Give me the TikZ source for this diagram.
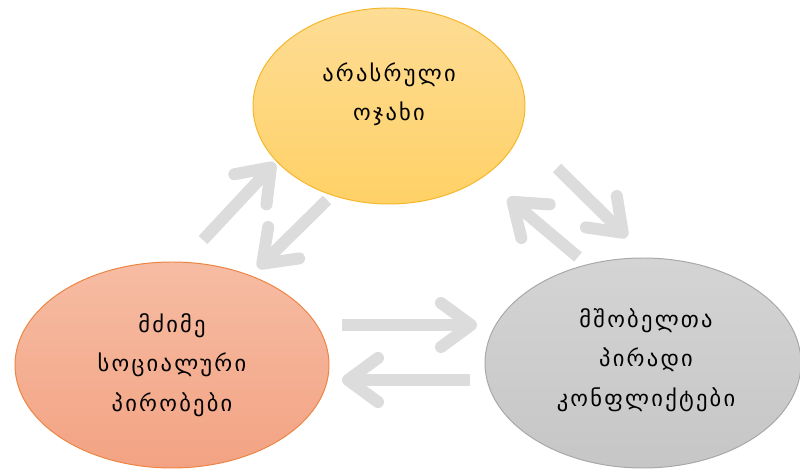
\documentclass[tikz,border=0pt]{standalone}
\usepackage{fontspec}
\newfontfamily\geofont[LetterSpace=10]{DejaVu Sans}
\usetikzlibrary{shapes.geometric,arrows.meta,positioning}

\definecolor{famtop}{HTML}{FDDC95}
\definecolor{fambot}{HTML}{FFD166}
\definecolor{famline}{HTML}{F6B62A}
\definecolor{soctop}{HTML}{F6BCA3}
\definecolor{socbot}{HTML}{F3A383}
\definecolor{socline}{HTML}{EC8443}
\definecolor{contop}{HTML}{D4D4D4}
\definecolor{conbot}{HTML}{C6C6C6}
\definecolor{conline}{HTML}{A8A8A8}
\definecolor{arrowgray}{HTML}{DCDCDC}

\begin{document}
\begin{tikzpicture}[
    blob/.style={ellipse, draw, line width=0.7pt, inner sep=0pt},
    geotext/.style={align=center, font=\geofont\fontsize{16}{28}\selectfont},
    bigarrow/.style={draw=arrowgray, line width=0.3cm,
        -{Straight Barb[length=0.75cm, width=1.1cm, round]}}
]
    \useasboundingbox (0,0) rectangle (20,11.75);

    % Incomplete family
    \node[blob, draw=famline, top color=famtop, bottom color=fambot,
          minimum width=6.8cm, minimum height=4.9cm] (family) at (9.725,9.1) {};
    \node[geotext] (familytext) at (9.725,9.4) {არასრული\\ოჯახი};

    % Social conditions
    \node[blob, draw=socline, top color=soctop, bottom color=socbot,
          minimum width=7.85cm, minimum height=5.15cm] (social) at (4.3,2.625) {};
    \node[geotext] (socialtext) at (4.3,2.625) {მძიმე\\სოციალური\\პირობები};

    % Parents' conflicts
    \node[blob, draw=conline, top color=contop, bottom color=conbot,
          minimum width=7.9cm, minimum height=5.25cm] (conflict) at (16.075,2.675) {};
    \node[geotext] (conflicttext) at (16.15,2.75) {მშობელთა\\პირადი\\კონფლიქტები};

    % Arrow ends
    \coordinate (sf1) at (5.075,5.75);   \coordinate (sf2) at (6.875,7.675);
    \coordinate (fs1) at (8.175,6.75);   \coordinate (fs2) at (6.45,5.05);
    \coordinate (fc1) at (13.925,7.55);  \coordinate (fc2) at (15.675,5.825);
    \coordinate (cf1) at (14.45,5.325);  \coordinate (cf2) at (12.7,6.8);
    \coordinate (sc1) at (8.55,3.625);   \coordinate (sc2) at (11.925,3.625);
    \coordinate (cs1) at (11.75,2.25);   \coordinate (cs2) at (8.55,2.25);

    % Arrows
    \foreach \a in {sf,fs,fc,cf,sc,cs}
        \draw[bigarrow] (\a1) -- (\a2);
\end{tikzpicture}
\end{document}
